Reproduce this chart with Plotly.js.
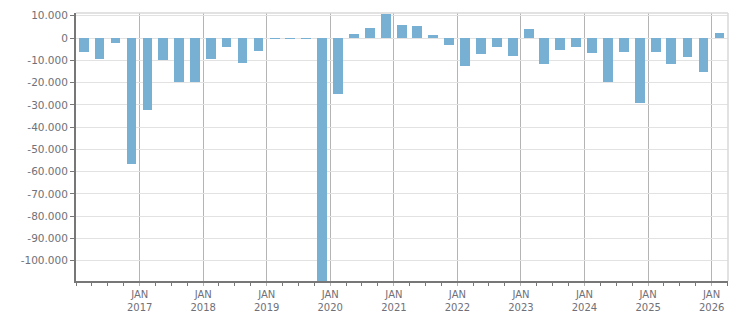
<!DOCTYPE html>
<html>
<head>
<meta charset="utf-8">
<script src="https://cdn.plot.ly/plotly-3.0.1.min.js"></script>
<style>
html,body{margin:0;padding:0;background:#fff;}
#chart{width:751px;height:313px;}
</style>
</head>
<body>
<div id="chart"></div>
<script>
// Quarter mid-points (x) and values (y)
var quarterMid = [
  '2016-02-15','2016-05-15','2016-08-15','2016-11-15',
  '2017-02-15','2017-05-15','2017-08-15','2017-11-15',
  '2018-02-15','2018-05-15','2018-08-15','2018-11-15',
  '2019-02-15','2019-05-15','2019-08-15','2019-11-15',
  '2020-02-15','2020-05-15','2020-08-15','2020-11-15',
  '2021-02-15','2021-05-15','2021-08-15','2021-11-15',
  '2022-02-15','2022-05-15','2022-08-15','2022-11-15',
  '2023-02-15','2023-05-15','2023-08-15','2023-11-15',
  '2024-02-15','2024-05-15','2024-08-15','2024-11-15',
  '2025-02-15','2025-05-15','2025-08-15','2025-11-15',
  '2026-02-15'
];
var values = [
  -6150, -9300, -2100, -56400,
  -32500, -10050, -19950, -19950,
  -9600, -4200, -11400, -5700,
  -300, -300, -300, -118000,
  -25300, 1950, 4650, 10900,
  6000, 5550, 1500, -3000,
  -12450, -7050, -3900, -7950,
  4200, -11550, -5250, -3900,
  -6600, -19650, -6150, -29100,
  -6150, -11550, -8400, -15150,
  2400
];
var xTickVals = ['2017-01-01','2018-01-01','2019-01-01','2020-01-01','2021-01-01','2022-01-01','2023-01-01','2024-01-01','2025-01-01','2026-01-01'];
var xTickText = ['JAN<br>2017','JAN<br>2018','JAN<br>2019','JAN<br>2020','JAN<br>2021','JAN<br>2022','JAN<br>2023','JAN<br>2024','JAN<br>2025','JAN<br>2026'];
var yTickVals = [10000,0,-10000,-20000,-30000,-40000,-50000,-60000,-70000,-80000,-90000,-100000];
var yTickText = ['10.000','0','-10.000','-20.000','-30.000','-40.000','-50.000','-60.000','-70.000','-80.000','-90.000','-100.000'];

var DAY = 86400000;
var trace = {
  type: 'bar',
  x: quarterMid,
  y: values,
  width: quarterMid.map(function(){ return 57 * DAY; }),
  marker: {color: '#78b0d3', line: {width: 0}},
  hoverinfo: 'x+y'
};

var layout = {
  width: 751, height: 313,
  margin: {l: 76, r: 23, t: 13, b: 32, pad: 0},
  paper_bgcolor: '#fff', plot_bgcolor: '#fff',
  showlegend: false,
  font: {family: 'DejaVu Sans, Verdana, sans-serif', size: 10, color: '#707078'},
  xaxis: {
    type: 'date',
    range: ['2016-01-01', '2026-04-05'],
    tickmode: 'array', tickvals: xTickVals, ticktext: xTickText,
    showgrid: true, gridcolor: '#b4b4b4', gridwidth: 1,
    ticks: 'outside', ticklen: 3, tickcolor: '#b4b4b4',
    showline: true, linecolor: '#777', linewidth: 2,
    zeroline: false,
    tickfont: {size: 10, color: '#707078'},
    minor: {dtick: 'M3', tick0: '2016-01-01', ticks: 'outside', ticklen: 3, tickcolor: '#777', showgrid: false}
  },
  yaxis: {
    range: [-109100, 11250],
    tickmode: 'array', tickvals: yTickVals, ticktext: yTickText,
    showgrid: true, gridcolor: '#e2e2e2', gridwidth: 1,
    zeroline: true, zerolinecolor: '#e2e2e2', zerolinewidth: 1,
    ticks: 'outside', ticklen: 4, tickcolor: '#777',
    showline: true, linecolor: '#777', linewidth: 2,
    tickfont: {size: 10.5, color: '#707078'}
  },
  shapes: [
    {type: 'line', xref: 'paper', yref: 'paper', x0: 0, x1: 1, y0: 1, y1: 1, line: {color: '#d8d8d8', width: 1.5}},
    {type: 'line', xref: 'paper', yref: 'paper', x0: 1, x1: 1, y0: 0, y1: 1, line: {color: '#d8d8d8', width: 1.5}}
  ],
  bargap: 0
};

Plotly.newPlot('chart', [trace], layout, {displayModeBar: false, staticPlot: true});
</script>
</body>
</html>
